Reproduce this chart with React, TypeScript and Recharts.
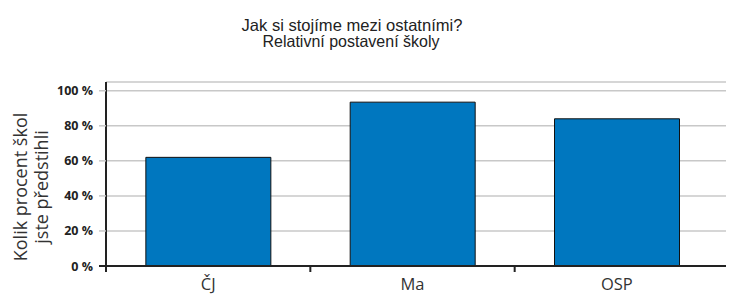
import { BarChart, Bar, XAxis, YAxis, CartesianGrid } from "recharts";

const subjects = ["ČJ", "Ma", "OSP"];
const percentOutperformed = [62, 93.5, 84];
const yTicks = [0, 20, 40, 60, 80, 100];
const titleLines = ["Jak si stojíme mezi ostatními?", "Relativní postavení školy"];
const yLabelLines = ["Kolik procent škol", "jste předstihli"];

const data = subjects.map((name, i) => ({ name, value: percentOutperformed[i] }));

const DARK = "#222";
const GRID = "#c8c8c8";

// y tick: bold "N %" label, the zero tick line is dark like the axes
function PercentTick(props: any) {
  const { x, y, payload } = props;
  return (
    <g>
      {payload.value === 0 && <line x1={x + 6} x2={x + 13} y1={y} y2={y} stroke={DARK} strokeWidth={2} />}
      <text
        x={x}
        y={y}
        textAnchor="end"
        dominantBaseline="central"
        fontFamily="'Open Sans', sans-serif"
        fontWeight={700}
        fontSize={12.5}
        fill={DARK}
      >
        {payload.value} %
      </text>
    </g>
  );
}

// category label plus a short mark at the left edge of its band
function SubjectTick(props: any) {
  const { x, y, payload } = props;
  const edge = x - (payload.offset ?? 0);
  return (
    <g>
      <line x1={edge} x2={edge} y1={y - 1} y2={y + 6} stroke={DARK} strokeWidth={2} />
      <text
        x={x}
        y={y + 17}
        textAnchor="middle"
        dominantBaseline="central"
        fontFamily="'Open Sans', sans-serif"
        fontSize={16.5}
        fill="#333"
      >
        {payload.value}
      </text>
    </g>
  );
}

export default function App() {
  return (
    <div style={{ position: "absolute", left: 0, top: 0, width: 739, height: 308, background: "#fff" }}>
      <BarChart
        width={739}
        height={308}
        data={data}
        margin={{ top: 82, right: 13, bottom: 12, left: 0 }}
        barCategoryGap="19.5%"
      >
        <CartesianGrid vertical={false} stroke={GRID} strokeWidth={1.5} />
        <XAxis
          dataKey="name"
          height={30}
          padding={{ left: 0, right: 7 }}
          tickLine={false}
          tickSize={0}
          tickMargin={0}
          axisLine={{ stroke: DARK, strokeWidth: 2 }}
          tick={<SubjectTick />}
        />
        <YAxis
          width={106}
          domain={[0, 105]}
          ticks={yTicks}
          interval={0}
          tickSize={7}
          tickMargin={6}
          tickLine={{ stroke: GRID, strokeWidth: 1.5 }}
          axisLine={{ stroke: DARK, strokeWidth: 2 }}
          tick={<PercentTick />}
        />
        <Bar dataKey="value" fill="#0077bf" stroke="#111" strokeWidth={1} isAnimationActive={false} />
      </BarChart>
      <svg
        width={739}
        height={308}
        style={{ position: "absolute", left: 0, top: 0, pointerEvents: "none" }}
      >
        <text
          x={352}
          y={30.5}
          textAnchor="middle"
          fontFamily="'Liberation Sans Narrow', 'Liberation Sans', Arial, sans-serif"
          fontSize={16.5}
          fill={DARK}
          textLength={221}
          lengthAdjust="spacingAndGlyphs"
        >
          {titleLines[0]}
        </text>
        <text
          x={351}
          y={47}
          textAnchor="middle"
          fontFamily="'Liberation Sans Narrow', 'Liberation Sans', Arial, sans-serif"
          fontSize={16.5}
          fill={DARK}
          textLength={177}
          lengthAdjust="spacingAndGlyphs"
        >
          {titleLines[1]}
        </text>
        <g transform="rotate(-90, 30, 187)" fontFamily="'Open Sans', sans-serif" fontSize={18} fill="#333">
          <text x={30} y={177} textAnchor="middle" dominantBaseline="central">
            {yLabelLines[0]}
          </text>
          <text x={30} y={198} textAnchor="middle" dominantBaseline="central">
            {yLabelLines[1]}
          </text>
        </g>
      </svg>
    </div>
  );
}
